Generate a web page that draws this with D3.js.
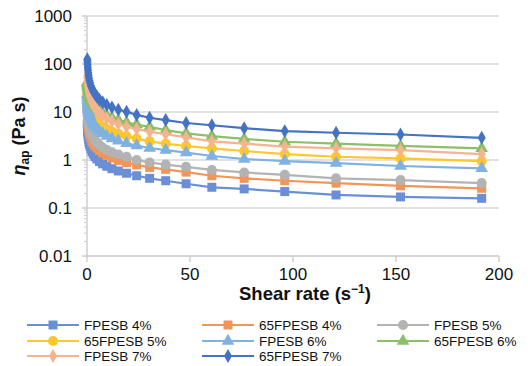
<!DOCTYPE html>
<html>
<head>
<meta charset="utf-8">
<script src="https://cdn.jsdelivr.net/npm/d3@7"></script>
<style>
  html, body { margin: 0; padding: 0; background: #fff; }
  svg { display: block; font-family: "Liberation Sans", Arial, Helvetica, sans-serif; }
</style>
</head>
<body>
<svg id="chart" width="528" height="366"></svg>
<script>
// Shear rates (s^-1), log-spaced sweep
const shearRates = [191.6, 152.2, 120.9, 96.0, 76.3, 60.6, 48.1, 38.2, 30.4, 24.1, 19.2,
  15.2, 12.1, 9.6, 7.6, 6.06, 4.81, 3.82, 3.04, 2.41, 1.92, 1.52, 1.21, 0.96, 0.76,
  0.61, 0.48, 0.38, 0.30, 0.24, 0.19, 0.15];

// Apparent viscosity (Pa s) for each sample
const fpesb4 = [0.159, 0.170, 0.187, 0.22, 0.25, 0.27, 0.32, 0.37, 0.415, 0.47, 0.53,
  0.59, 0.66, 0.74, 0.83, 0.93, 1.05, 1.18, 1.33, 1.5, 1.7, 1.92, 2.15, 2.4, 2.7,
  3.0, 3.4, 3.8, 4.2, 4.7, 5.2, 5.8];
const fpesb65_4 = [0.257, 0.29, 0.33, 0.37, 0.415, 0.47, 0.56, 0.64, 0.70, 0.79, 0.88,
  0.98, 1.1, 1.24, 1.4, 1.58, 1.78, 2.0, 2.25, 2.55, 2.9, 3.3, 3.7, 4.2, 4.7,
  5.3, 6.0, 6.8, 7.6, 8.5, 9.5, 10.5];
const fpesb5 = [0.33, 0.38, 0.415, 0.49, 0.55, 0.62, 0.72, 0.80, 0.89, 1.0, 1.17,
  1.3, 1.45, 1.62, 1.82, 2.05, 2.3, 2.6, 2.95, 3.3, 3.75, 4.2, 4.75, 5.35, 6.0,
  6.8, 7.6, 8.5, 9.5, 10.6, 11.8, 13];
const fpesb65_5 = [0.95, 1.08, 1.17, 1.33, 1.54, 1.75, 1.96, 2.2, 2.45, 2.8, 3.16,
  3.5, 3.9, 4.4, 4.9, 5.5, 6.2, 7.0, 7.9, 8.9, 10, 11.2, 12.6, 14.1, 15.8,
  17.6, 19.6, 21.8, 24, 26.5, 29, 31];
const fpesb6 = [0.67, 0.75, 0.86, 0.95, 1.05, 1.21, 1.42, 1.6, 1.78, 2.0, 2.22,
  2.5, 2.8, 3.15, 3.55, 4.0, 4.5, 5.1, 5.7, 6.4, 7.2, 8.1, 9.1, 10.2, 11.4,
  12.8, 14.3, 16, 17.8, 19.8, 22, 24];
const fpesb65_6 = [1.75, 1.96, 2.2, 2.4, 2.75, 3.15, 3.6, 4.2, 4.9, 5.5, 6.1,
  6.8, 7.6, 8.5, 9.5, 10.6, 11.8, 13, 14.4, 16, 17.6, 19.4, 21.3, 23.4, 25.6,
  28, 30.5, 33, 35.5, 38, 40, 42];
const fpesb7 = [1.33, 1.6, 1.75, 1.9, 2.2, 2.45, 2.95, 3.45, 3.9, 4.4, 4.95,
  5.6, 6.4, 7.3, 8.3, 9.5, 10.8, 12.3, 14, 16, 18, 20.5, 23, 26, 29.5,
  33, 37, 41, 45, 49, 53, 56];
const fpesb65_7 = [2.9, 3.4, 3.7, 4.0, 4.6, 5.3, 5.9, 6.8, 7.6, 8.7, 10.1,
  11.2, 12.5, 14, 16, 18, 21, 24, 27, 31, 35, 40, 45, 51, 58,
  66, 75, 85, 96, 108, 118, 126];

const seriesNames = ["FPESB 4%", "65FPESB 4%", "FPESB 5%", "65FPESB 5%",
  "FPESB 6%", "65FPESB 6%", "FPESB 7%", "65FPESB 7%"];
const seriesValues = [fpesb4, fpesb65_4, fpesb5, fpesb65_5, fpesb6, fpesb65_6, fpesb7, fpesb65_7];

const xTicks = [0, 50, 100, 150, 200];
const yTicks = [0.01, 0.1, 1, 10, 100, 1000];
const yTickLabels = ["0.01", "0.1", "1", "10", "100", "1000"];

// Appearance per series
const colors = ["#6b8fd6", "#f19558", "#b3b3b3", "#ffc72c", "#7fb1e2", "#8cbf68", "#f5b48f", "#4472c4"];
const shapes = [d3.symbolSquare, d3.symbolSquare, d3.symbolCircle, d3.symbolCircle,
  d3.symbolTriangle, d3.symbolTriangle, d3.symbolDiamond, d3.symbolDiamond];
const symSizes = [81, 81, 80, 80, 70, 70, 56, 56];

const svg = d3.select("#chart");
const plotLeft = 87, plotRight = 499, plotTop = 16, plotBottom = 256;

const x = d3.scaleLinear().domain([0, 200]).range([plotLeft, plotRight]);
const y = d3.scaleLog().domain([0.01, 1000]).range([plotBottom, plotTop]);

// Horizontal gridlines
svg.append("g").selectAll("line").data(yTicks.slice(1)).join("line")
  .attr("x1", plotLeft).attr("x2", plotRight)
  .attr("y1", d => y(d)).attr("y2", d => y(d))
  .attr("stroke", "#d9d9d9").attr("stroke-width", 1.3);

// Y axis with log minor ticks
const minor = [];
for (let e = -2; e < 3; e++) for (let m = 2; m <= 9; m++) minor.push(m * Math.pow(10, e));
const yAxisG = svg.append("g");
yAxisG.append("line").attr("x1", plotLeft).attr("x2", plotLeft).attr("y1", plotTop).attr("y2", plotBottom)
  .attr("stroke", "#c8c8c8").attr("stroke-width", 1.3);
yAxisG.selectAll("line.minor").data(minor).join("line").attr("class", "minor")
  .attr("x1", plotLeft - 3).attr("x2", plotLeft)
  .attr("y1", d => y(d)).attr("y2", d => y(d))
  .attr("stroke", "#d0d0d0").attr("stroke-width", 1);
yAxisG.selectAll("line.major").data(yTicks).join("line").attr("class", "major")
  .attr("x1", plotLeft - 5).attr("x2", plotLeft)
  .attr("y1", d => y(d)).attr("y2", d => y(d))
  .attr("stroke", "#c8c8c8").attr("stroke-width", 1.3);
yAxisG.selectAll("text").data(yTicks).join("text")
  .attr("x", 72).attr("y", d => y(d)).attr("dy", "0.36em")
  .attr("text-anchor", "end").attr("font-size", 17).attr("fill", "#111")
  .text((d, i) => yTickLabels[i]);

// X axis
const xAxisG = svg.append("g");
xAxisG.append("line").attr("x1", plotLeft).attr("x2", plotRight).attr("y1", plotBottom).attr("y2", plotBottom)
  .attr("stroke", "#c8c8c8").attr("stroke-width", 1.3);
xAxisG.selectAll("line.tick").data(xTicks).join("line").attr("class", "tick")
  .attr("x1", d => x(d)).attr("x2", d => x(d))
  .attr("y1", plotBottom).attr("y2", plotBottom + 6)
  .attr("stroke", "#c8c8c8").attr("stroke-width", 1.3);
xAxisG.selectAll("text").data(xTicks).join("text")
  .attr("x", d => x(d)).attr("y", 280)
  .attr("text-anchor", "middle").attr("font-size", 17).attr("fill", "#111")
  .text(d => d);

// Axis titles
svg.append("text").attr("x", 305).attr("y", 300)
  .attr("text-anchor", "middle").attr("font-size", 18.5).attr("font-weight", "bold")
  .attr("fill", "#111")
  .html('Shear rate (s<tspan dy="-7" font-size="12">\u22121</tspan><tspan dy="7">)</tspan>');

const yTitle = svg.append("text")
  .attr("transform", "translate(25,136) rotate(-90)")
  .attr("text-anchor", "middle").attr("font-size", 18).attr("font-weight", "bold")
  .attr("fill", "#111");
yTitle.append("tspan").attr("font-style", "italic").text("\u03b7");
yTitle.append("tspan").attr("font-size", 12).attr("dy", 4).text("ap");
yTitle.append("tspan").attr("dy", -4).text(" (Pa s)");

// Series lines and markers
const line = d3.line().x((d, i) => x(shearRates[i])).y(d => y(d));
const plot = svg.append("g");
seriesValues.forEach((vals, s) => {
  const g = plot.append("g");
  g.append("path").datum(vals).attr("d", line)
    .attr("fill", "none").attr("stroke", colors[s]).attr("stroke-width", 2.2);
  g.selectAll("path.m").data(vals).join("path").attr("class", "m")
    .attr("transform", (d, i) => `translate(${x(shearRates[i])},${y(d)})`)
    .attr("d", d3.symbol().type(shapes[s]).size(symSizes[s]))
    .attr("fill", colors[s]);
});

// Legend: three columns
const legendCols = [27, 202, 377];
const legendRows = [325, 341, 356];
const legend = svg.append("g");
seriesNames.forEach((name, i) => {
  const cx = legendCols[i % 3], cy = legendRows[Math.floor(i / 3)];
  const g = legend.append("g").attr("transform", `translate(${cx},${cy})`);
  g.append("line").attr("x1", 0).attr("x2", 52).attr("y1", 0).attr("y2", 0)
    .attr("stroke", colors[i]).attr("stroke-width", 2.2);
  g.append("path").attr("transform", "translate(26,0)")
    .attr("d", d3.symbol().type(shapes[i]).size(symSizes[i]))
    .attr("fill", colors[i]);
  g.append("text").attr("x", 57).attr("y", 0).attr("dy", "0.36em")
    .attr("font-size", 13.5).attr("fill", "#111").text(name);
});
</script>
</body>
</html>
